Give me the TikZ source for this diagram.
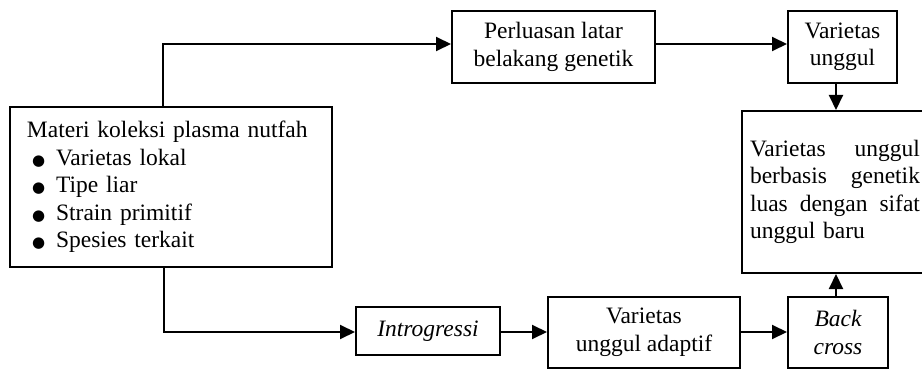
\documentclass[tikz,border=0pt]{standalone}
\usepackage{fontspec}
\setmainfont{Liberation Serif}
\newfontfamily\bulletfont{DejaVu Sans}
\usetikzlibrary{arrows.meta}
\newcommand{\blt}{{\bulletfont\fontsize{15}{15}\selectfont ●}\hspace{11pt}}
\newcommand{\jline}[1]{\leavevmode\hbox to 170pt{#1}}
\begin{document}
\begin{tikzpicture}[x=1pt,y=-1pt,
  every node/.style={font=\fontsize{23.5}{27.5}\selectfont},
  box/.style={draw,line width=2pt,inner sep=0pt,align=center},
  conn/.style={line width=2pt},
  arr/.style={conn,-{Triangle[length=15pt,width=14pt]}}]
\useasboundingbox (0,0) rectangle (922,369);
% boxes
\node[box,minimum width=322pt,minimum height=160pt,text width=290pt,align=left] (mat) at (171,187)
  {\hspace*{1pt}Materi koleksi plasma nutfah\\
   \hspace*{6pt}\blt Varietas lokal\\
   \hspace*{6pt}\blt Tipe liar\\
   \hspace*{6pt}\blt Strain primitif\\
   \hspace*{6pt}\blt Spesies terkait};
\node[box,minimum width=203pt,minimum height=72pt] (perl) at (553.5,47) {Perluasan latar\\belakang genetik};
\node[box,anchor=north west,minimum width=109pt,minimum height=72pt] (vu) at (787,10) {Varietas\\unggul};
\node[box,anchor=north west,minimum height=162pt,text width=170pt,inner xsep=8pt,align=left] (big) at (741,110)
  {\jline{Varietas\hfill unggul}\\
   \jline{berbasis\hfill genetik}\\
   \jline{luas\hfill dengan\hfill sifat}\\
   unggul baru};
\node[box,minimum width=144pt,minimum height=48pt] (intro) at (428,331) {\itshape Introgressi};
\node[box,minimum width=192pt,minimum height=71pt] (adapt) at (644,332.5) {Varietas\\unggul adaptif};
\node[box,minimum width=100pt,minimum height=71pt] (bc) at (838,332.5) {\itshape Back\\\itshape cross};
% connectors
\coordinate (ctop) at (163,44);
\coordinate (cbot) at (164,332);
\coordinate (cv) at (836,0);
\draw[arr] (mat.north -| ctop) |- (perl.west |- ctop);
\draw[arr] (perl.east |- ctop) -- (vu.west |- ctop);
\draw[arr] (vu.south -| cv) -- (big.north -| cv);
\draw[arr] (mat.south -| cbot) |- (intro.west |- cbot);
\draw[arr] (intro.east |- cbot) -- (adapt.west |- cbot);
\draw[arr] (adapt.east |- cbot) -- (bc.west |- cbot);
\draw[arr] (bc.north -| cv) -- (big.south -| cv);
\end{tikzpicture}
\end{document}
